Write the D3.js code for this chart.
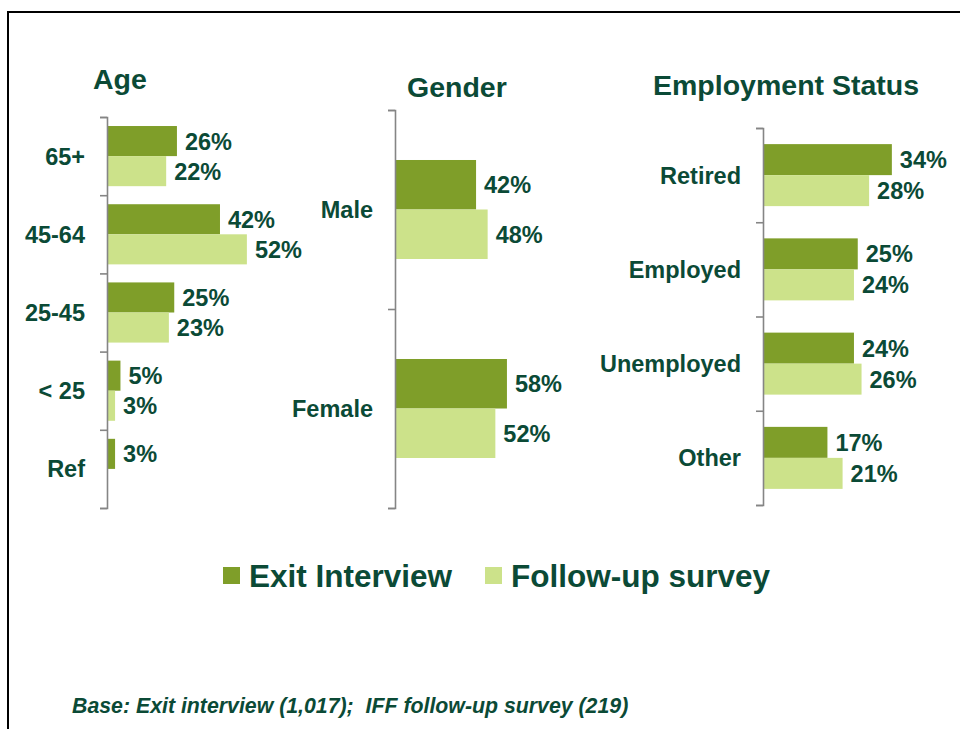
<!DOCTYPE html>
<html>
<head>
<meta charset="utf-8">
<title>Profile of respondents</title>
<script src="https://d3js.org/d3.v7.min.js"></script>
<style>
    body {
        margin: 0;
        background: #fff;
        font-family: 'Liberation Sans', Arial, sans-serif;
    }
    .panelTitle {
        font-size: 28.5px;
        font-weight: 700;
        fill: #0b4a36;
    }
    .catLabel, .valLabel {
        font-size: 23.5px;
        font-weight: 700;
        fill: #0b4a36;
    }
    .legendText {
        font-size: 31.5px;
        font-weight: 700;
        fill: #0b4a36;
    }
    .footnote {
        font-size: 21.3px;
        font-weight: 700;
        font-style: italic;
        fill: #0b4a36;
        white-space: pre;
    }
    .axis path, .axis line {
        stroke: #858585;
        stroke-width: 1.6px;
    }
</style>
</head>
<body>
<svg id="chart" width="960" height="729"></svg>
<script>
    // data
    const seriesNames = ["Exit Interview", "Follow-up survey"];
    const seriesColors = ["#7f9e29", "#cce28a"];

    const ageCats = ["65+", "45-64", "25-45", "< 25", "Ref"];
    const ageExit = [26, 42, 25, 5, 3];
    const ageFollow = [22, 52, 23, 3, null];

    const genderCats = ["Male", "Female"];
    const genderExit = [42, 58];
    const genderFollow = [48, 52];

    const empCats = ["Retired", "Employed", "Unemployed", "Other"];
    const empExit = [34, 25, 24, 17];
    const empFollow = [28, 24, 26, 21];

    const footnoteText = "Base: Exit interview (1,017);  IFF follow-up survey (219)";

    const svg = d3.select("svg#chart");

    // frame (right and bottom edges fall outside the picture)
    svg.append("rect")
        .attr("x", 8).attr("y", 12)
        .attr("width", 1000).attr("height", 800)
        .attr("fill", "none")
        .attr("stroke", "#000")
        .attr("stroke-width", 2);

    // layout of each small chart
    const panels = [
        { title: "Age", titleX: 93, titleY: 89, cats: ageCats, exit: ageExit, follow: ageFollow,
          axisX: 107, top: 117, bottom: 508, width100: 269, outerPad: 0.3 },
        { title: "Gender", titleX: 407, titleY: 97, cats: genderCats, exit: genderExit, follow: genderFollow,
          axisX: 395, top: 110, bottom: 508, width100: 193, outerPad: 1.01 },
        { title: "Employment Status", titleX: 653, titleY: 95, cats: empCats, exit: empExit, follow: empFollow,
          axisX: 763, top: 128, bottom: 505, width100: 379, outerPad: 0.52 }
    ];

    panels.forEach(p => {
        const g = svg.append("g").attr("transform", "translate(" + p.axisX + ",0)");

        const y = d3.scaleBand().domain(p.cats).range([p.top, p.bottom]).padding(0);
        const ySub = d3.scaleBand().domain(seriesNames).range([0, y.bandwidth()])
            .paddingInner(0).paddingOuter(p.outerPad);
        const x = d3.scaleLinear().domain([0, 100]).range([0, p.width100]);

        const rows = p.cats.map((c, i) => ({
            cat: c,
            vals: [p.exit[i], p.follow[i]]
        }));

        const groups = g.selectAll("g.cat")
            .data(rows)
            .enter()
            .append("g")
            .attr("class", "cat")
            .attr("transform", d => "translate(0," + y(d.cat) + ")");

        const cells = groups.selectAll("g.bar")
            .data(d => d.vals.map((v, k) => ({ s: seriesNames[k], k: k, v: v })).filter(e => e.v != null))
            .enter()
            .append("g")
            .attr("class", "bar");

        cells.append("rect")
            .attr("x", 0)
            .attr("y", d => ySub(d.s))
            .attr("width", d => x(d.v))
            .attr("height", ySub.bandwidth())
            .attr("fill", d => seriesColors[d.k]);

        cells.append("text")
            .attr("class", "valLabel")
            .attr("x", d => x(d.v) + 8)
            .attr("y", d => ySub(d.s) + ySub.bandwidth() / 2)
            .attr("dy", "0.36em")
            .text(d => d.v + "%");

        // category labels
        g.selectAll("text.catLabel")
            .data(p.cats)
            .enter()
            .append("text")
            .attr("class", "catLabel")
            .attr("x", -22)
            .attr("y", d => y(d) + y.bandwidth() / 2)
            .attr("dy", "0.36em")
            .attr("text-anchor", "end")
            .text(d => d);

        // axis with ticks on the category boundaries
        const yEdge = d3.scaleLinear().domain([0, p.cats.length]).range([p.top, p.bottom]);
        g.append("g")
            .attr("class", "axis")
            .call(d3.axisLeft(yEdge)
                .tickValues(d3.range(p.cats.length + 1))
                .tickSize(7)
                .tickSizeOuter(7)
                .tickFormat(""));

        svg.append("text")
            .attr("class", "panelTitle")
            .attr("x", p.titleX)
            .attr("y", p.titleY)
            .text(p.title);
    });

    // legend
    const legendX = [223, 485];
    const legend = svg.append("g").attr("class", "legend");
    const items = legend.selectAll("g")
        .data(seriesNames)
        .enter()
        .append("g")
        .attr("transform", (d, i) => "translate(" + legendX[i] + ",567)");
    items.append("rect")
        .attr("width", 17).attr("height", 17)
        .attr("fill", (d, i) => seriesColors[i]);
    items.append("text")
        .attr("class", "legendText")
        .attr("x", 26)
        .attr("y", 20)
        .text(d => d);

    svg.append("text")
        .attr("class", "footnote")
        .attr("x", 72)
        .attr("y", 713)
        .text(footnoteText);
</script>
</body>
</html>
